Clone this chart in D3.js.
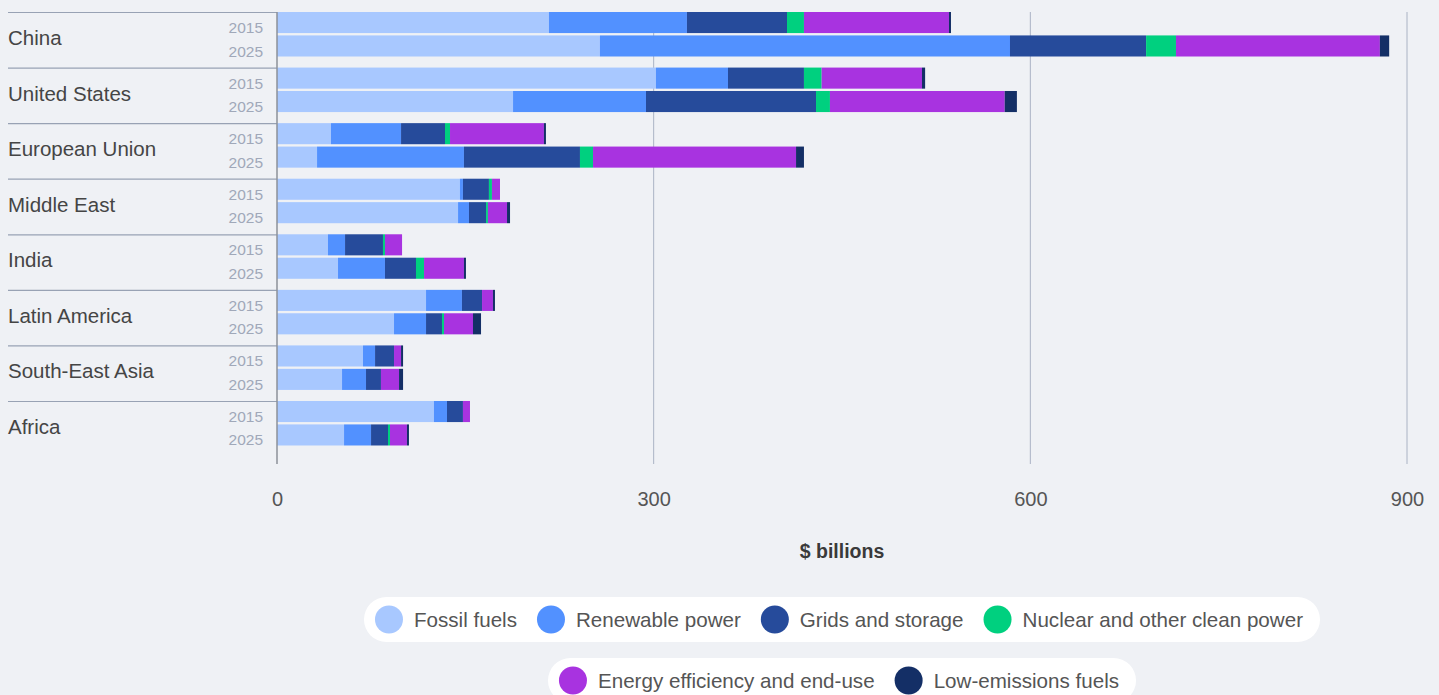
<!DOCTYPE html>
<html>
<head>
<meta charset="utf-8">
<script src="https://cdn.jsdelivr.net/npm/d3@7"></script>
<style>
  html, body { margin: 0; padding: 0; background: #eff1f5; }
  svg { display: block; font-family: "Liberation Sans", Arial, sans-serif; }
</style>
</head>
<body>
<svg id="chart" width="1439" height="695"></svg>
<script>
// ---------- DATA ----------
const regions = ["China", "United States", "European Union", "Middle East", "India", "Latin America", "South-East Asia", "Africa"];
const years = ["2015", "2025"];
const seriesNames = ["Fossil fuels", "Renewable power", "Grids and storage", "Nuclear and other clean power", "Energy efficiency and end-use", "Low-emissions fuels"];
const seriesColors = ["#a8c8ff", "#5291ff", "#264b9b", "#00d07f", "#a833e0", "#142f66"];
const xTicks = [0, 300, 600, 900];
const xTitle = "$ billions";

// values in $ billions, order follows `regions`
const fossil2015     = [216.6, 301.8, 43.0, 145.7, 40.6, 118.7, 68.5, 125.0];
const fossil2025     = [257.2, 188.0, 31.9, 144.2, 48.6, 93.2, 51.8, 53.4];
const renewable2015  = [109.9, 57.4, 55.8, 2.4, 13.6, 28.6, 9.6, 10.4];
const renewable2025  = [326.6, 105.9, 117.0, 8.7, 37.4, 25.5, 19.1, 21.5];
const grids2015      = [79.7, 60.5, 35.0, 20.7, 30.2, 16.0, 15.1, 12.7];
const grids2025      = [108.4, 135.4, 92.4, 13.6, 24.7, 12.7, 11.9, 13.5];
const nuclear2015    = [13.5, 14.1, 4.0, 2.4, 1.6, 0, 0, 0];
const nuclear2025    = [23.8, 11.1, 10.4, 1.5, 6.4, 1.6, 0, 1.6];
const efficiency2015 = [115.5, 79.9, 74.8, 6.4, 13.6, 8.7, 5.6, 5.6];
const efficiency2025 = [162.4, 139.2, 161.7, 15.2, 31.8, 23.1, 14.4, 13.5];
const lowEm2015      = [1.6, 2.5, 1.6, 0, 0, 1.6, 1.6, 0];
const lowEm2025      = [7.4, 9.7, 6.3, 2.4, 1.6, 6.4, 3.2, 1.6];

const seriesByYear = {
  "2015": [fossil2015, renewable2015, grids2015, nuclear2015, efficiency2015, lowEm2015],
  "2025": [fossil2025, renewable2025, grids2025, nuclear2025, efficiency2025, lowEm2025]
};

// build table rows
const rows = [];
regions.forEach((r, i) => {
  years.forEach(y => {
    const row = { region: r, year: y };
    seriesNames.forEach((s, k) => { row[s] = seriesByYear[y][k][i]; });
    rows.push(row);
  });
});

// ---------- LAYOUT ----------
const svg = d3.select("#chart");
const plotLeft = 277, plotRight = 1407, plotTop = 12, groupStep = 55.57;
const plotBottom = 464;

const x = d3.scaleLinear().domain([0, 900]).range([plotLeft, plotRight]);
const yGroup = d3.scaleBand().domain(regions)
  .range([plotTop, plotTop + groupStep * regions.length]).paddingInner(0).paddingOuter(0);
const yYear = d3.scaleBand().domain(years).range([0, 44.5]).paddingInner(0.1).paddingOuter(0);
const color = d3.scaleOrdinal().domain(seriesNames).range(seriesColors);

// gridlines
svg.append("g").selectAll("line")
  .data(xTicks.filter(d => d !== 0))
  .join("line")
  .attr("x1", d => x(d)).attr("x2", d => x(d))
  .attr("y1", plotTop).attr("y2", plotBottom)
  .attr("stroke", "#aab3c4").attr("stroke-width", 1);

// group separators
svg.append("g").selectAll("line")
  .data(regions)
  .join("line")
  .attr("x1", 8).attr("x2", plotLeft)
  .attr("y1", d => yGroup(d) + 0.5).attr("y2", d => yGroup(d) + 0.5)
  .attr("stroke", "#98a2b4").attr("stroke-width", 1.2);

// stacked bars
const stack = d3.stack().keys(seriesNames);
const stacked = stack(rows);
svg.append("g").selectAll("g")
  .data(stacked)
  .join("g")
  .attr("fill", d => color(d.key))
  .selectAll("rect")
  .data(d => d)
  .join("rect")
  .attr("x", d => x(d[0]))
  .attr("width", d => Math.max(0, x(d[1]) - x(d[0])))
  .attr("y", d => yGroup(d.data.region) + yYear(d.data.year))
  .attr("height", yYear.bandwidth());

// zero axis line
svg.append("line")
  .attr("x1", x(0)).attr("x2", x(0))
  .attr("y1", plotTop).attr("y2", plotBottom)
  .attr("stroke", "#8c9099").attr("stroke-width", 1.5);

// region labels
svg.append("g").selectAll("text")
  .data(regions)
  .join("text")
  .attr("x", 8)
  .attr("y", d => yGroup(d) + 33)
  .attr("font-size", 20.5)
  .attr("fill", "#454545")
  .text(d => d);

// year labels
svg.append("g").selectAll("text")
  .data(rows)
  .join("text")
  .attr("x", 263)
  .attr("y", d => yGroup(d.region) + yYear(d.year) + yYear.bandwidth())
  .attr("text-anchor", "end")
  .attr("font-size", 15.5)
  .attr("fill", "#a0a8b9")
  .text(d => d.year);

// x axis tick labels
const xAxis = d3.axisBottom(x).tickValues(xTicks).tickSize(0).tickPadding(28).tickFormat(d3.format("d"));
const gx = svg.append("g").attr("transform", `translate(0,${plotBottom})`).call(xAxis);
gx.select(".domain").remove();
gx.selectAll("text").attr("font-size", 20).attr("fill", "#555").attr("font-family", "Liberation Sans, Arial, sans-serif");

// axis title
svg.append("text")
  .attr("x", (plotLeft + plotRight) / 2)
  .attr("y", 558)
  .attr("text-anchor", "middle")
  .attr("font-size", 19.5)
  .attr("font-weight", "bold")
  .attr("fill", "#3a3a3a")
  .text(xTitle);

// ---------- LEGEND ----------
const legendRows = [seriesNames.slice(0, 4), seriesNames.slice(4)];
const legendTops = [597, 658];
const pillH = 45, r = 14, padL = 11, padR = 17, gapCT = 11, gapItem = 20;
const cx0 = (plotLeft + plotRight) / 2;

legendRows.forEach((items, ri) => {
  const g = svg.append("g");
  const pill = g.append("rect").attr("fill", "#ffffff");
  const itemsG = g.append("g");
  let cursor = padL;
  items.forEach((name, i) => {
    const ig = itemsG.append("g");
    ig.append("circle")
      .attr("cx", cursor + r).attr("cy", pillH / 2).attr("r", r)
      .attr("fill", color(name));
    const t = ig.append("text")
      .attr("x", cursor + 2 * r + gapCT).attr("y", pillH / 2)
      .attr("dy", "0.36em")
      .attr("font-size", 20.6)
      .attr("fill", "#555")
      .text(name);
    const w = t.node().getComputedTextLength();
    cursor += 2 * r + gapCT + w;
    if (i < items.length - 1) cursor += gapItem;
  });
  const totalW = cursor + padR;
  const left = cx0 - totalW / 2;
  g.attr("transform", `translate(${left},${legendTops[ri]})`);
  pill.attr("x", 0).attr("y", 0).attr("width", totalW).attr("height", pillH)
    .attr("rx", pillH / 2).attr("ry", pillH / 2);
});
</script>
</body>
</html>
